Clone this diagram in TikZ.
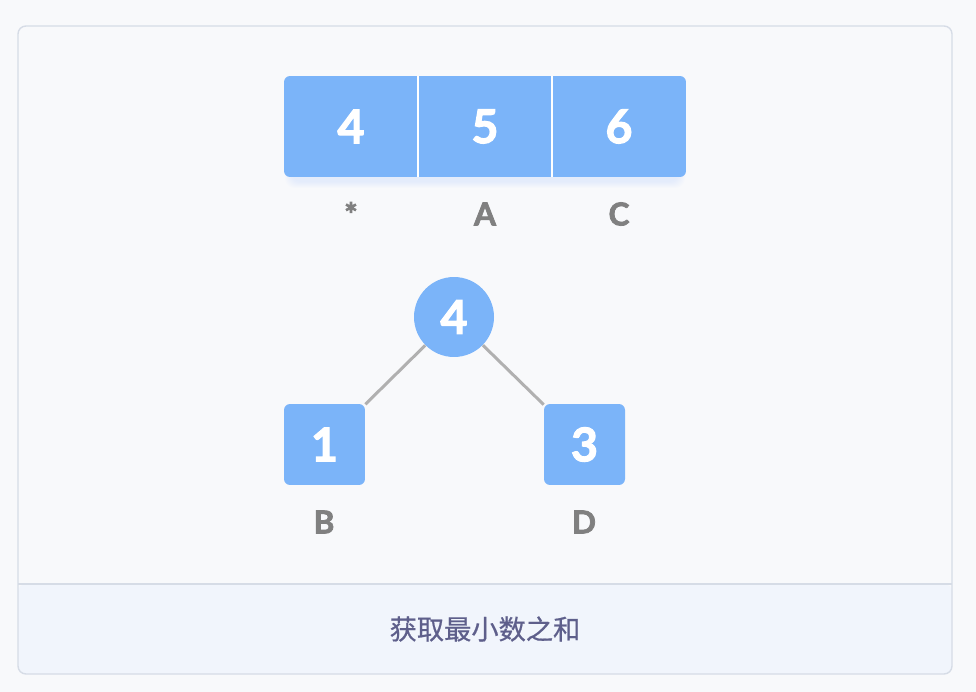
\documentclass[tikz,border=0pt]{standalone}
\usepackage{fontspec}
\setmainfont{Lato}
\newfontfamily\heavy{Lato}[BoldFeatures={FakeBold=2.4}]
\newfontfamily\cjk{Noto Sans CJK SC}[FakeBold=0.6]
\usepackage{tikz}
\definecolor{pageBg}{HTML}{F8F9FB}
\definecolor{cardEdge}{HTML}{D6DCE6}
\definecolor{footBg}{HTML}{F1F5FC}
\definecolor{cellBlue}{HTML}{7BB4F9}
\definecolor{labelGrey}{HTML}{808080}
\definecolor{edgeGrey}{HTML}{B0B0B0}
\definecolor{footText}{HTML}{5E5F8B}
\tikzset{
  digit/.style={text=white, font=\heavy\bfseries\fontsize{26.5}{30}\selectfont},
  letter/.style={text=labelGrey, font=\heavy\bfseries\fontsize{18}{22}\selectfont},
  cell/.style={digit, minimum width=2.68cm, minimum height=2.02cm, inner sep=0pt}
}
\begin{document}
\begin{tikzpicture}[
  x=0.02cm, y=-0.02cm,
  leaf/.style={digit, fill=cellBlue, rounded corners=0.12cm,
    minimum size=1.62cm, inner sep=0pt},
  root/.style={digit, circle, fill=cellBlue, minimum size=1.6cm, inner sep=0pt},
  link/.style={draw=edgeGrey, line width=1.7pt}
]
\fill[pageBg] (0,0) rectangle (976,692);
\useasboundingbox (0,0) rectangle (976,692);
% card with footer
\fill[footBg, rounded corners=0.16cm] (18,584) rectangle (952,674);
\draw[cardEdge, line width=0.8pt, rounded corners=0.16cm] (18,26) rectangle (952,674);
\draw[cardEdge, line width=0.8pt] (18,584) -- (952,584);
\node[text=footText, font=\cjk\fontsize{15.5}{18}\selectfont] (caption) at (485,629) {获取最小数之和};
% soft shadow under the array
\foreach \k in {1,...,7}
  \fill[cellBlue!60, opacity=0.035, rounded corners=0.2cm]
    (292-\k,90-\k) rectangle (678+\k,181+\k);
% array
\node[fill=cellBlue, rounded corners=0.12cm, minimum width=8.04cm, minimum height=2.02cm]
  (arr) at (485,126.5) {};
\foreach[count=\i] \v/\l in {4/*, 5/A, 6/C} {
  \node[cell] (c\i) at (351+134*\i-134,126.5) {\v};
  \node[letter] (l\i) at (351+134*\i-134,214) {\l};
}
\foreach \i in {1,2}
  \draw[white, line width=1.2pt] (c\i.north east) -- (c\i.south east);
% tree
\node[root] (top) at (454,317) {4};
\node[leaf] (b) at (324.5,444.5) {1};
\node[leaf] (d) at (584.5,444.5) {3};
\node[letter] (lb) at (324,522) {B};
\node[letter] (ld) at (584,522) {D};
\draw[link] (top) -- (b);
\draw[link] (top) -- (d);
\end{tikzpicture}
\end{document}
